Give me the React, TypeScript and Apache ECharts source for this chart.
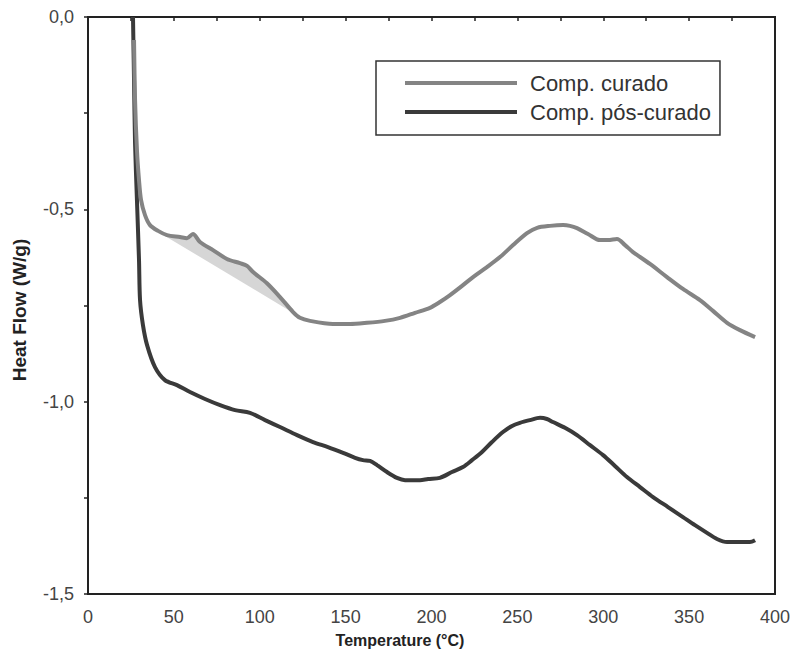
import React, { useEffect, useRef } from "react";
import * as echarts from "echarts";

// Comp. curado (gray curve): temperature (°C), heat flow (W/g)
const curadoT = [26.8, 27.4, 28.5, 29.7, 30.9, 33.2, 36.1, 40.8, 46.0, 53.6, 57.6, 61.1, 65.2, 72.8, 80.9, 88.5, 92.6, 96.1, 104.2, 111.8, 119.4, 123.4, 129.3, 142.6, 152.5, 162.4, 172.9, 181.7, 190.4, 199.1, 204.9, 210.8, 217.8, 224.2, 232.3, 239.9, 247.5, 255.6, 261.5, 269.0, 276.6, 280.6, 284.7, 291.1, 298.1, 302.8, 308.0, 312.7, 317.3, 327.2, 337.1, 346.4, 356.3, 363.9, 372.1, 379.6, 388.4];
const curadoHF = [-0.06, -0.216, -0.346, -0.424, -0.476, -0.515, -0.541, -0.556, -0.567, -0.572, -0.575, -0.564, -0.585, -0.606, -0.629, -0.64, -0.647, -0.663, -0.692, -0.728, -0.767, -0.782, -0.79, -0.798, -0.798, -0.795, -0.79, -0.782, -0.769, -0.756, -0.741, -0.723, -0.699, -0.676, -0.65, -0.624, -0.593, -0.562, -0.548, -0.543, -0.541, -0.543, -0.549, -0.564, -0.58, -0.58, -0.577, -0.593, -0.611, -0.642, -0.676, -0.707, -0.736, -0.764, -0.795, -0.814, -0.832];

// Comp. pós-curado (dark curve)
const posT = [26.2, 26.8, 27.4, 28.5, 29.7, 30.3, 32.0, 34.4, 39.0, 44.8, 51.8, 59.4, 68.1, 76.9, 85.6, 94.3, 103.1, 111.8, 121.7, 131.0, 139.7, 148.5, 155.5, 160.1, 164.2, 168.3, 174.1, 179.9, 184.6, 189.2, 193.3, 198.0, 204.9, 211.9, 218.3, 223.6, 229.4, 235.2, 241.6, 246.9, 251.5, 257.3, 263.2, 267.2, 270.7, 277.7, 284.7, 292.3, 299.9, 306.8, 313.8, 321.4, 329.0, 337.7, 346.4, 353.4, 360.4, 366.2, 372.1, 379.6, 385.4, 388.4];
const posHF = [0.0, -0.164, -0.328, -0.476, -0.632, -0.736, -0.801, -0.853, -0.91, -0.944, -0.957, -0.975, -0.993, -1.009, -1.022, -1.029, -1.048, -1.066, -1.087, -1.105, -1.118, -1.133, -1.146, -1.152, -1.154, -1.165, -1.183, -1.198, -1.204, -1.204, -1.204, -1.201, -1.198, -1.183, -1.17, -1.152, -1.131, -1.105, -1.079, -1.063, -1.055, -1.048, -1.042, -1.045, -1.053, -1.068, -1.087, -1.113, -1.139, -1.167, -1.196, -1.222, -1.248, -1.274, -1.3, -1.321, -1.341, -1.357, -1.365, -1.365, -1.365, -1.36];

// Shaded peak area: straight baseline end points
const baseT = [44.8, 120.5];
const baseHF = [-0.569, -0.772];

const seriesNames = ["Comp. curado", "Comp. pós-curado"];
const xTicks = [0, 50, 100, 150, 200, 250, 300, 350, 400];
const yTicks = [-1.5, -1.0, -0.5, 0.0];

const FONT = "Liberation Sans, Arial, sans-serif";

export default function App() {
  const ref = useRef<HTMLDivElement>(null);
  useEffect(() => {
    if (!ref.current) return;
    const chart = echarts.init(ref.current, null, { renderer: "svg" });
    const curado = curadoT.map((t, i) => [t, curadoHF[i]]);
    const pos = posT.map((t, i) => [t, posHF[i]]);
    const fillIdx = curadoT.map((t, i) => i).filter((i) => curadoT[i] > baseT[0] && curadoT[i] < baseT[1]);
    const option: any = {
      animation: false,
      backgroundColor: "#ffffff",
      grid: {
        left: 88,
        top: 17,
        right: 22,
        bottom: 68,
        show: true,
        borderColor: "#222",
        borderWidth: 2,
      },
      legend: {
        orient: "vertical",
        left: 376,
        top: 61,
        borderColor: "#333",
        borderWidth: 1.5,
        padding: [11, 9, 12, 29],
        itemWidth: 112,
        itemHeight: 4,
        itemGap: 7,
        textStyle: { fontSize: 22, fontFamily: FONT, color: "#333", padding: [0, 0, 0, 8] },
        data: [
          { name: seriesNames[0], icon: "rect" },
          { name: seriesNames[1], icon: "rect" },
        ],
      },
      xAxis: {
        type: "value",
        min: xTicks[0],
        max: xTicks[xTicks.length - 1],
        interval: 50,
        axisLine: { show: true, lineStyle: { color: "#222", width: 2 } },
        axisTick: { show: true, length: 4, lineStyle: { color: "#222", width: 1.5 } },
        minorTick: { show: true, splitNumber: 2, length: 4, lineStyle: { color: "#222", width: 1.5 } },
        splitLine: { show: false },
        axisLabel: { fontSize: 18, fontFamily: FONT, color: "#444", margin: 14 },
      },
      yAxis: {
        type: "value",
        min: yTicks[0],
        max: yTicks[yTicks.length - 1],
        interval: 0.5,
        axisLine: { show: true, lineStyle: { color: "#222", width: 2 } },
        axisTick: { show: true, length: 4, lineStyle: { color: "#222", width: 1.5 } },
        minorTick: { show: true, splitNumber: 2, length: 4, lineStyle: { color: "#222", width: 1.5 } },
        splitLine: { show: false },
        axisLabel: {
          fontSize: 18,
          fontFamily: FONT,
          color: "#444",
          margin: 14,
          formatter: (v: number) => v.toFixed(1).replace(".", ","),
        },
      },
      graphic: [
        {
          type: "text",
          x: 400,
          y: 640,
          style: {
            text: "Temperature (°C)",
            font: `bold 16px ${FONT}`,
            fill: "#222",
            align: "center",
            verticalAlign: "middle",
          },
        },
        {
          type: "text",
          x: 19,
          y: 310,
          rotation: Math.PI / 2,
          style: {
            text: "Heat Flow (W/g)",
            font: `bold 19px ${FONT}`,
            fill: "#222",
            align: "center",
            verticalAlign: "middle",
          },
        },
      ],
      series: [
        {
          type: "custom",
          coordinateSystem: "cartesian2d",
          silent: true,
          z: 1,
          data: [[baseT[0], baseHF[0]]],
          renderItem: (params: any, api: any) => {
            const pts: number[][] = [api.coord([baseT[0], baseHF[0]])];
            fillIdx.forEach((i) => pts.push(api.coord([curadoT[i], curadoHF[i]])));
            pts.push(api.coord([baseT[1], baseHF[1]]));
            return { type: "polygon", shape: { points: pts }, style: { fill: "#d6d6d6" } };
          },
        },
        {
          name: seriesNames[0],
          type: "line",
          data: curado,
          symbol: "none",
          smooth: 0.3,
          z: 3,
          lineStyle: { color: "#848484", width: 4 },
          itemStyle: { color: "#848484" },
        },
        {
          name: seriesNames[1],
          type: "line",
          data: pos,
          symbol: "none",
          smooth: 0.3,
          z: 2,
          lineStyle: { color: "#3a3a3a", width: 4 },
          itemStyle: { color: "#3a3a3a" },
        },
      ],
    };
    chart.setOption(option);
    return () => chart.dispose();
  }, []);
  return (
    <div
      ref={ref}
      style={{ position: "fixed", left: 0, top: 0, width: 797, height: 662, background: "#fff" }}
    />
  );
}
